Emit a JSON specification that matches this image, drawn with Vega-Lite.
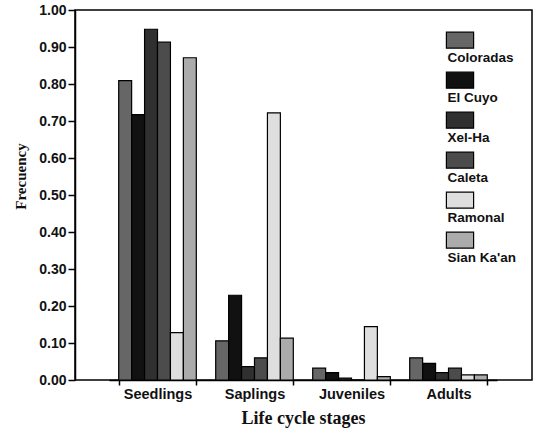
{
  "$schema": "https://vega.github.io/schema/vega-lite/v6.json",
  "width": 457,
  "height": 370,
  "padding": {"left": 13, "top": 3, "right": 5, "bottom": 5},
  "background": "white",
  "data": {
    "values": [
      {"stage": "Seedlings", "site": "Coloradas", "freq": 0.809},
      {"stage": "Seedlings", "site": "El Cuyo", "freq": 0.717},
      {"stage": "Seedlings", "site": "Xel-Ha", "freq": 0.948},
      {"stage": "Seedlings", "site": "Caleta", "freq": 0.913},
      {"stage": "Seedlings", "site": "Ramonal", "freq": 0.128},
      {"stage": "Seedlings", "site": "Sian Ka'an", "freq": 0.871},
      {"stage": "Saplings", "site": "Coloradas", "freq": 0.106},
      {"stage": "Saplings", "site": "El Cuyo", "freq": 0.229},
      {"stage": "Saplings", "site": "Xel-Ha", "freq": 0.036},
      {"stage": "Saplings", "site": "Caleta", "freq": 0.060},
      {"stage": "Saplings", "site": "Ramonal", "freq": 0.722},
      {"stage": "Saplings", "site": "Sian Ka'an", "freq": 0.113},
      {"stage": "Juveniles", "site": "Coloradas", "freq": 0.032},
      {"stage": "Juveniles", "site": "El Cuyo", "freq": 0.020},
      {"stage": "Juveniles", "site": "Xel-Ha", "freq": 0.005},
      {"stage": "Juveniles", "site": "Caleta", "freq": 0.0},
      {"stage": "Juveniles", "site": "Ramonal", "freq": 0.144},
      {"stage": "Juveniles", "site": "Sian Ka'an", "freq": 0.009},
      {"stage": "Adults", "site": "Coloradas", "freq": 0.060},
      {"stage": "Adults", "site": "El Cuyo", "freq": 0.045},
      {"stage": "Adults", "site": "Xel-Ha", "freq": 0.020},
      {"stage": "Adults", "site": "Caleta", "freq": 0.032},
      {"stage": "Adults", "site": "Ramonal", "freq": 0.014},
      {"stage": "Adults", "site": "Sian Ka'an", "freq": 0.014}
    ]
  },
  "mark": {"type": "bar", "stroke": "black", "strokeWidth": 1.2},
  "encoding": {
    "x": {
      "field": "stage",
      "type": "nominal",
      "sort": ["Seedlings", "Saplings", "Juveniles", "Adults"],
      "scale": {"range": [34, 422], "paddingInner": 0.2, "paddingOuter": 0.1},
      "axis": {
        "title": "Life cycle stages",
        "labelAngle": 0,
        "tickBand": "extent",
        "tickSize": 5,
        "labelPadding": 2,
        "labelFont": "Liberation Sans",
        "labelFontSize": 14.5,
        "labelFontWeight": "bold",
        "labelColor": "#111",
        "titleFont": "Liberation Serif",
        "titleFontSize": 18,
        "titleFontWeight": "bold",
        "titleColor": "#111",
        "titlePadding": 9,
        "domainColor": "black",
        "domainWidth": 1.5,
        "tickColor": "black",
        "tickWidth": 1.5
      }
    },
    "xOffset": {
      "field": "site",
      "type": "nominal",
      "sort": ["Coloradas", "El Cuyo", "Xel-Ha", "Caleta", "Ramonal", "Sian Ka'an"],
      "scale": {"paddingInner": 0, "paddingOuter": 0}
    },
    "y": {
      "field": "freq",
      "type": "quantitative",
      "scale": {"domain": [0, 1], "nice": false},
      "axis": {
        "title": "Frecuency",
        "values": [0, 0.1, 0.2, 0.3, 0.4, 0.5, 0.6, 0.7, 0.8, 0.9, 1.0],
        "format": ".2f",
        "grid": false,
        "labelFlush": false,
        "tickSize": 7,
        "labelPadding": 2,
        "labelFont": "Liberation Sans",
        "labelFontSize": 14,
        "labelFontWeight": "bold",
        "labelColor": "#111",
        "titleFont": "Liberation Serif",
        "titleFontSize": 15,
        "titleFontWeight": "bold",
        "titleColor": "#111",
        "titlePadding": 10,
        "titleY": 166,
        "domainColor": "black",
        "domainWidth": 1.5,
        "tickColor": "black",
        "tickWidth": 1.5
      }
    },
    "fill": {
      "field": "site",
      "type": "nominal",
      "scale": {
        "domain": ["Coloradas", "El Cuyo", "Xel-Ha", "Caleta", "Ramonal", "Sian Ka'an"],
        "range": ["#666666", "#111111", "#303030", "#4c4c4c", "#dedede", "#ababab"]
      },
      "legend": {
        "title": null,
        "orient": "none",
        "legendX": 376,
        "legendY": 16,
        "symbolType": "M-1.7,-0.35H1.7V1.65H-1.7Z",
        "symbolSize": 256,
        "symbolStrokeColor": "black",
        "symbolStrokeWidth": 1.2,
        "symbolOpacity": 1,
        "labelExpr": "['', datum.label]",
        "labelBaseline": "top",
        "labelOffset": -21.5,
        "labelFont": "Liberation Sans",
        "labelFontSize": 13.5,
        "labelFontWeight": "bold",
        "labelColor": "#111",
        "rowPadding": 2
      }
    }
  },
  "config": {
    "view": {"stroke": "black", "strokeWidth": 1.5}
  }
}
